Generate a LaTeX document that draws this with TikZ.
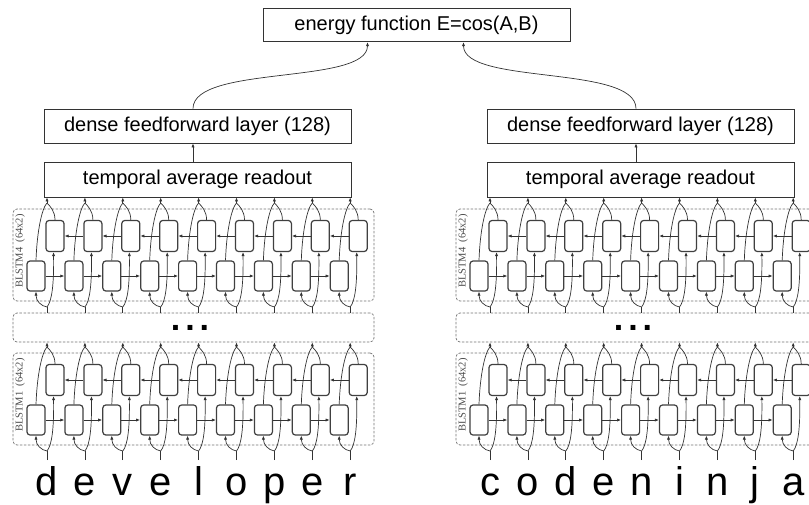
\documentclass[tikz,border=0pt]{standalone}
\usepackage{fontspec}
\setmainfont{Liberation Sans}
\newfontfamily\labfont{Liberation Serif}
\usetikzlibrary{arrows.meta}
\tikzset{
  conn/.style={draw=black!80, line width=0.7pt},
  arr/.style={conn, -{Latex[length=4pt,width=3.2pt]}},
  solidbox/.style={draw=black!80, line width=0.8pt, fill=white, minimum width=307pt, inner sep=0pt, font=\fontsize{20}{20}\selectfont},
  dashbox/.style={draw=black!55, line width=0.7pt, dash pattern=on 2.5pt off 1.5pt, rounded corners=4pt, fill=white, minimum width=361pt, inner sep=0pt},
  cell/.style={draw=black!75, line width=1.2pt, fill=white, rounded corners=3pt, minimum width=18pt, minimum height=30pt, inner sep=0pt},
  letter/.style={font=\fontsize{40}{40}\selectfont, anchor=base, inner sep=0pt},
  blabel/.style={font=\labfont\fontsize{10.5}{10.5}\selectfont, text=black!70, rotate=90, inner sep=0pt},
  dotsstyle/.style={font=\fontsize{34}{34}\selectfont\bfseries, anchor=base, inner sep=0pt},
}
\begin{document}
\begin{tikzpicture}[x=1pt,y=-1pt]
\useasboundingbox (0,0) rectangle (809,504);
\clip (0,0) rectangle (809,504);
\node[solidbox, minimum height=33.5pt] (energy) at (416.5,25) {energy function E=cos(A,B)};
\foreach \s/\side/\word in {0/L/{d,e,v,e,l,o,p,e,r},443/R/{c,o,d,e,n,i,n,j,a}} {
  \node[solidbox, minimum height=34pt] (dense\side) at (197.5+\s,126) {dense feedforward layer (128)};
  \node[solidbox, minimum height=35pt] (temp\side) at (197.5+\s,179.5) {temporal average readout};
  \draw[arr] ([xshift=-4.5pt]temp\side.north) -- ([xshift=-4.5pt]dense\side.south);
  \node[dashbox, minimum height=29pt] (ell\side) at (193.5+\s,327.5) {};
  \node[dotsstyle] (dots\side) at (190+\s,330.5) {.\hspace{5pt}.\hspace{5pt}.};
  \coordinate (let\side) at (0,460);
  \foreach \ch [count=\k from 0] in \word {
    \node[letter] (ch\side\k) at (47+\s+37.9*\k,495) {\ch};
  }
  \foreach \T/\b/\up/\dn in {209/4/temp\side.south/ell\side.north, 353/1/ell\side.south/let\side} {
    \node[dashbox, minimum height=92pt] (bl\b\side) at (193.5+\s,\T+46) {};
    \node[blabel] (lab\b\side) at (20+\s,\T+42) {BLSTM\b\ \ (64x2)};
    \foreach \i in {0,...,8} {
      \pgfmathsetmacro\c{47+\s+37.9*\i}
      \node[cell, minimum height=31pt] (u\side\b\i) at (\c+8,\T+27) {};
      \node[cell] (l\side\b\i) at (\c-11,\T+67) {};
      \coordinate (o\side\b\i) at (\c,\T-6);
      \coordinate (n\side\b\i) at (\c,\T+98);
    }
    \foreach \i in {0,...,8} {
      \pgfmathsetmacro\c{47+\s+37.9*\i}
      \draw[conn] (u\side\b\i.north) .. controls (\c+8,\T+2) and (\c+3,\T-3) .. (o\side\b\i);
      \draw[conn] (l\side\b\i.north) .. controls (\c-10,\T+22) and (\c-5,\T-1) .. (o\side\b\i);
      \draw[arr] (o\side\b\i) -- (o\side\b\i |- \up);
      \draw[conn] (n\side\b\i |- \dn) -- (n\side\b\i);
      \draw[arr] (n\side\b\i) .. controls (\c-6,\T+97) and (\c-11,\T+92) .. (l\side\b\i.south);
      \draw[arr] (n\side\b\i) .. controls (\c+5,\T+92) and (\c+7,\T+75) .. ([xshift=-1.5pt]u\side\b\i.south);
      \ifnum\i<8
        \pgfmathtruncatemacro\j{\i+1}
        \draw[arr] (l\side\b\i.east) -- (l\side\b\j.west);
        \draw[arr] (u\side\b\j.west) -- (u\side\b\i.east);
      \fi
    }
  }
}
\draw[arr] ([xshift=-4.5pt]denseL.north) .. controls +(0,-44) and +(0,43) .. ([xshift=-49pt]energy.south);
\draw[arr] ([xshift=-4.5pt]denseR.north) .. controls +(0,-44) and +(0,43) .. ([xshift=47pt]energy.south);
\end{tikzpicture}
\end{document}
